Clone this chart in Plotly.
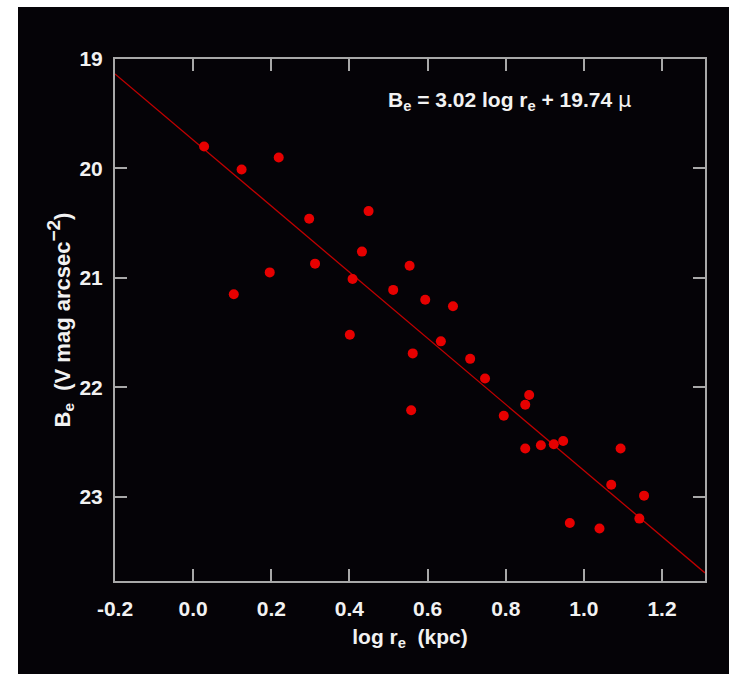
import plotly.graph_objects as go

# data
log_re = [0.028, 0.124, 0.219, 0.297, 0.449, 0.432, 0.312, 0.196, 0.408, 0.512,
          0.104, 0.401, 0.554, 0.594, 0.665, 0.634, 0.562, 0.709, 0.747, 0.558,
          0.860, 0.850, 0.795, 0.850, 0.890, 0.923, 0.947, 1.094, 1.070, 1.154,
          0.964, 1.040, 1.142]
B_e = [19.80, 20.01, 19.90, 20.46, 20.39, 20.76, 20.87, 20.95, 21.01, 21.11,
       21.15, 21.52, 20.89, 21.20, 21.26, 21.58, 21.69, 21.74, 21.92, 22.21,
       22.07, 22.16, 22.26, 22.56, 22.53, 22.52, 22.49, 22.56, 22.89, 22.99,
       23.24, 23.29, 23.20]

fit_slope = 3.02
fit_intercept = 19.74
fit_x = [-0.2, 1.31]
fit_y = [fit_slope * v + fit_intercept for v in fit_x]

x_tickvals = [-0.2, 0.0, 0.2, 0.4, 0.6, 0.8, 1.0, 1.2]
x_ticktext = ["-0.2", "0.0", "0.2", "0.4", "0.6", "0.8", "1.0", "1.2"]
y_tickvals = [19, 20, 21, 22, 23]
y_ticktext = ["19", "20", "21", "22", "23"]

W, H = 729, 674
L, R, T, B = 115, 24, 59, 93
pw, ph = W - L - R, H - T - B

def px_x(p):
    return (p - L) / pw

def px_y(p):
    return (H - B - p) / ph

FONT = "Liberation Sans"
WHITE = "#f2f2f2"
AXC = "#a8a8a8"

fig = go.Figure()
fig.add_trace(go.Scatter(x=fit_x, y=fit_y, mode="lines",
                         line=dict(color="#c00000", width=1.3),
                         hoverinfo="skip", showlegend=False))
fig.add_trace(go.Scatter(x=log_re, y=B_e, mode="markers",
                         marker=dict(color="#e60000", size=10, line=dict(width=0)),
                         showlegend=False))

fig.add_shape(type="rect", xref="paper", yref="paper",
              x0=px_x(18), x1=px_x(729), y0=px_y(674), y1=px_y(7),
              fillcolor="#050307", line=dict(width=0), layer="below")

fig.add_annotation(xref="paper", yref="paper", x=px_x(386), y=px_y(101),
                   xanchor="left", yanchor="middle", showarrow=False,
                   text='B<sub>e</sub> = 3.02 log r<sub>e</sub> + 19.74 <span style="font-weight:normal;font-family:DejaVu Sans">μ</span>',
                   font=dict(family=FONT, size=21, color=WHITE, weight="bold"))

axis_common = dict(showline=True, linecolor=AXC, linewidth=2, mirror="ticks",
                   ticks="inside", ticklen=12, tickwidth=2, tickcolor=AXC,
                   showgrid=False, zeroline=False,
                   tickfont=dict(family=FONT, size=21, color=WHITE, weight="bold"))

fig.update_xaxes(range=[-0.2, 1.31], tickmode="array", tickvals=x_tickvals,
                 ticktext=x_ticktext, ticklabelstandoff=8,
                 title=dict(text="log r<sub>e</sub>&nbsp; (kpc)", standoff=10,
                            font=dict(family=FONT, size=21, color=WHITE, weight="bold")),
                 **axis_common)
fig.update_yaxes(range=[23.77, 19], tickmode="array", tickvals=y_tickvals,
                 ticktext=y_ticktext, ticklabelstandoff=6,
                 title=dict(text='B<sub>e</sub>&nbsp; (V mag arcsec<sup><span style="font-size:19px">−2</span></sup>)',
                            standoff=3,
                            font=dict(family=FONT, size=22, color=WHITE, weight="bold")),
                 **axis_common)

fig.update_layout(width=W, height=H, margin=dict(l=L, r=R, t=T, b=B, autoexpand=False),
                  paper_bgcolor="white", plot_bgcolor="rgba(0,0,0,0)")

fig.write_html("out.html", config={"displayModeBar": False},
               post_script="document.body.style.margin='0';document.body.style.padding='0';")
